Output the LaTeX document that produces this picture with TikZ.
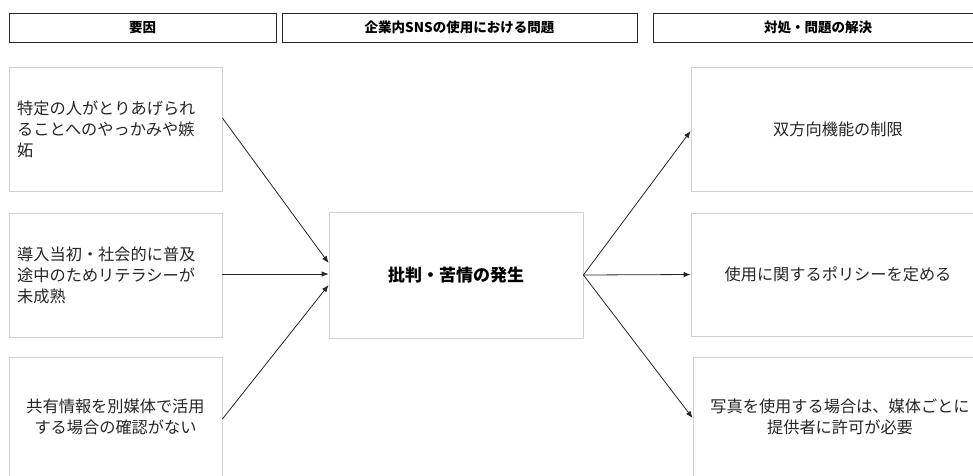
\documentclass[tikz,border=0pt]{standalone}
\usepackage{fontspec}
\setmainfont{Noto Sans CJK JP}
\usetikzlibrary{arrows.meta}
\tikzset{
  hdr/.style={draw=black!85, line width=0.9pt, minimum height=29pt, inner sep=0pt, font=\fontsize{13.5}{16}\selectfont\bfseries},
  box/.style={draw=black!18, line width=0.8pt, minimum width=213pt, minimum height=124pt, inner sep=0pt},
  rbox/.style={box, minimum width=294pt},
  cbox/.style={box, minimum width=254pt, minimum height=126pt, font=\fontsize{17}{20}\selectfont\bfseries},
  txt/.style={font=\fontsize{16.2}{21}\selectfont, text=black!85, inner sep=0pt},
  arr/.style={draw=black!85, line width=0.8pt, -{Latex[length=7pt,width=5.5pt]}}
}
\begin{document}
\begin{tikzpicture}[x=1pt,y=-1pt]
\useasboundingbox[fill=white] (0,0) rectangle (973,475);
% headers
\node[hdr, minimum width=267pt] (h1) at (142.5,27.5) {要因};
\node[hdr, minimum width=355pt] (h2) at (459.5,27.5) {企業内SNSの使用における問題};
\node[hdr, minimum width=330pt] (h3) at (818,27.5) {対処・問題の解決};
% left boxes
\node[box] (l1) at (115.5,129) {};
\node[txt, anchor=west, align=left] (l1t) at (17,129) {特定の人がとりあげられ\\ることへのやっかみや嫉\\妬};
\node[box] (l2) at (115.5,275) {};
\node[txt, anchor=west, align=left] (l2t) at (17,275) {導入当初・社会的に普及\\途中のためリテラシーが\\未成熟};
\node[box, minimum height=120pt] (l3) at (115.5,417) {};
\node[txt, align=center] (l3t) at (115.5,417) {共有情報を別媒体で活用\\する場合の確認がない};
% center
\node[cbox] (c) at (456,275) {批判・苦情の発生};
% right boxes
\node[rbox] (r1) at (838,129) {};
\node[txt] (r1t) at (838,129) {双方向機能の制限};
\node[rbox, minimum height=123pt] (r2) at (838,274.5) {};
\node[txt] (r2t) at (838,274.5) {使用に関するポリシーを定める};
\node[rbox, minimum height=120pt] (r3) at (840,417) {};
\node[txt, align=center] (r3t) at (840,417) {写真を使用する場合は、媒体ごとに\\提供者に許可が必要};
% arrows
\draw[arr] ([yshift=11pt]l1.east) -- ([yshift=12pt]c.west);
\draw[arr] ([yshift=1pt]l2.east) -- ([yshift=1pt]c.west);
\draw[arr] ([yshift=-2pt]l3.east) -- ([yshift=-10pt]c.west);
\draw[arr] (c.east) -- ([yshift=-2pt]r1.west);
\draw[arr] (c.east) -- (r2.west);
\draw[arr] (c.east) -- ([yshift=-1pt]r3.west);
\end{tikzpicture}
\end{document}
